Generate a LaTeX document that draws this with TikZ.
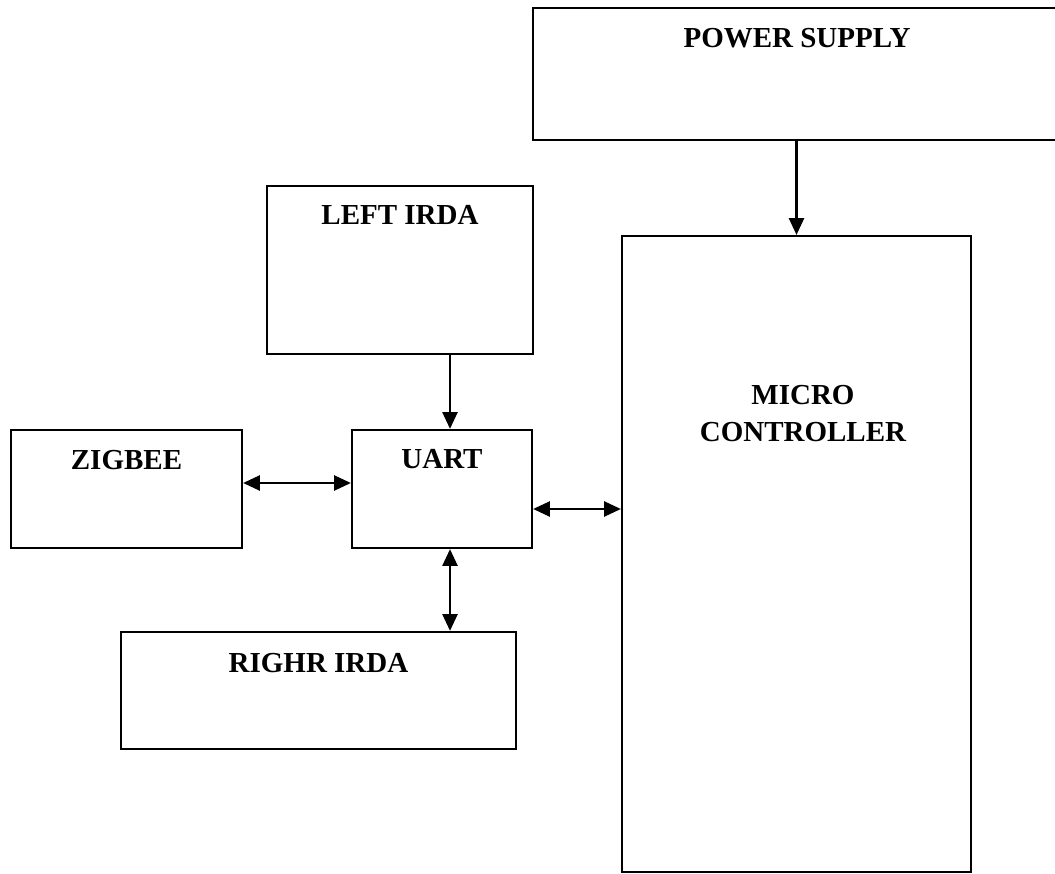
\documentclass[tikz,border=0pt]{standalone}
\usepackage{fontspec}
\setmainfont{Liberation Serif}
\usepackage{tikz}
\usetikzlibrary{arrows.meta,positioning,calc}

\begin{document}
\begin{tikzpicture}[x=0.02cm,y=-0.02cm,
  box/.style={rectangle,draw=black,line width=1.3pt,fill=white,inner sep=0pt},
  title/.style={anchor=base,font=\bfseries\fontsize{16.5}{21}\selectfont,align=center},
  flow/.style={-{Triangle[length=9.5pt,width=8.5pt]},line width=1.3pt},
  both/.style={{Triangle[length=9.5pt,width=8.5pt]}-{Triangle[length=9.5pt,width=8.5pt]},line width=1.3pt}
]
\useasboundingbox (0,0) rectangle (1055,874);
\clip (0,0) rectangle (1055,874);
% blocks
\node[box,minimum width=10.84cm,minimum height=2.64cm] (ps) at (804,74) {};
\node[box,minimum width=5.32cm,minimum height=3.36cm] (lirda) at (400,270) {};
\node[box,minimum width=6.98cm,minimum height=12.72cm] (mc) at (796.5,554) {};
\node[box,minimum width=4.62cm,minimum height=2.36cm] (zig) at (126.5,489) {};
\node[box,minimum width=3.6cm,minimum height=2.36cm] (uart) at (442,489) {};
\node[box,minimum width=7.9cm,minimum height=2.34cm] (rirda) at (318.5,690.5) {};
% titles
\node[title] (pst) at (797,48) {POWER SUPPLY};
\node[title] (lirdat) at (400,225) {LEFT IRDA};
\node[title] (mct) at (803,405) {MICRO};
\node[title] (mct2) at (803,442) {CONTROLLER};
\node[title] (zigt) at (126.5,470) {ZIGBEE};
\node[title] (uartt) at (442,469) {UART};
\node[title] (rirdat) at (318.5,672) {RIGHR IRDA};
% links
\coordinate (lx) at (450,0);
\coordinate (zy) at (0,483);
\coordinate (my) at (0,509);
\draw[flow] (mc.north |- ps.south) -- (mc.north);
\draw[flow] (lirda.south -| lx) -- (uart.north -| lx);
\draw[both] (zig.east |- zy) -- (uart.west |- zy);
\draw[both] (uart.east |- my) -- (mc.west |- my);
\draw[both] (uart.south -| lx) -- (rirda.north -| lx);
\end{tikzpicture}
\end{document}
